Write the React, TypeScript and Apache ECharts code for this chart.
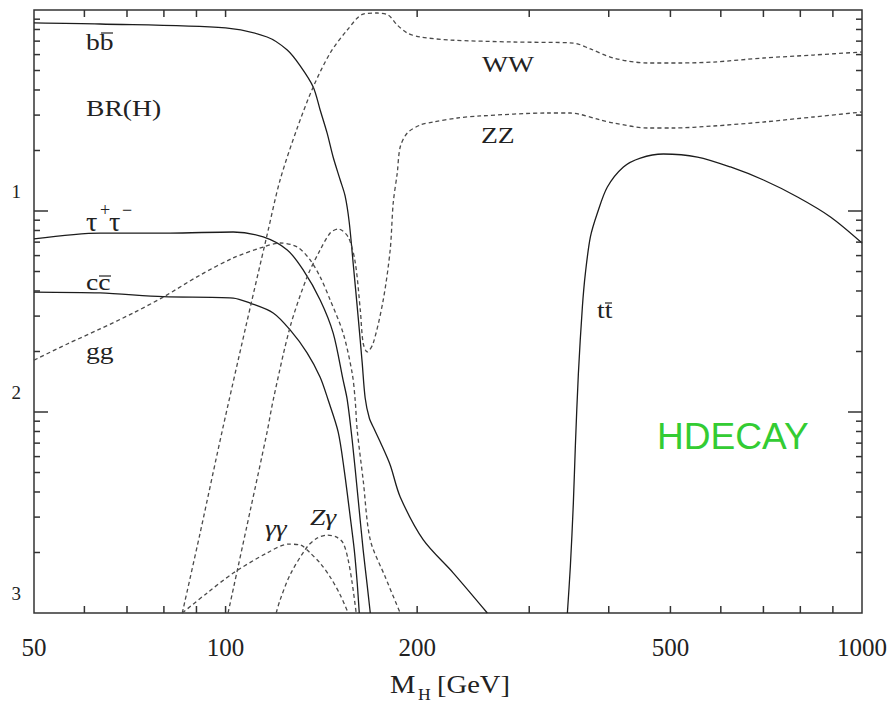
import React, { useEffect, useRef } from "react";
import * as echarts from "echarts";

// Higgs boson branching ratios BR(H) versus M_H [GeV]; pairs are [mass, BR].
const bbCurve: [number, number][] = [
  [50, 0.862], [63.5, 0.852], [100, 0.814], [116.2, 0.734], [125, 0.632], [131, 0.527],
  [137.3, 0.414], [140.8, 0.318], [144.4, 0.244], [147.6, 0.185], [151.4, 0.1426],
  [154.1, 0.1188], [156.4, 0.0882], [158.7, 0.0545], [161.6, 0.0294], [163.9, 0.0177],
  [165.7, 0.01174], [168.2, 0.00934], [171.2, 0.00823], [175, 0.00709], [181.4, 0.00545],
  [188.1, 0.00378], [204.5, 0.00231], [228, 0.00158], [257.8, 0.001],
];
const tautauCurve: [number, number][] = [
  [50, 0.0726], [63.5, 0.0777], [81.8, 0.0777], [102.8, 0.0786], [114.6, 0.0743],
  [125, 0.064], [132.4, 0.0509], [140.8, 0.0361], [147.6, 0.0247], [153, 0.0144],
  [155.3, 0.0115], [158.1, 0.00726], [161.6, 0.00365], [164.5, 0.00206], [166.9, 0.00138],
  [168.8, 0.001],
];
const ccCurve: [number, number][] = [
  [50, 0.0395], [63.5, 0.0391], [79.8, 0.0375], [102.8, 0.0369], [109.3, 0.0348],
  [118.8, 0.0311], [126.3, 0.0256], [134.3, 0.0197], [140.8, 0.0149],
  [144.9, 0.0115], [150.3, 0.00795], [153.6, 0.00514], [157, 0.003], [159.3, 0.00206],
  [161, 0.00141], [162.2, 0.001],
];
const ggCurve: [number, number][] = [
  [50, 0.0181], [56.4, 0.0218], [63.5, 0.0259], [71.6, 0.0311], [79.8, 0.0373],
  [91.2, 0.048], [102.8, 0.0584], [114.6, 0.0662], [121.8, 0.0693], [129.6, 0.0662],
  [135.8, 0.0571], [140.8, 0.047], [146, 0.0361], [153, 0.0247], [158.1, 0.0156],
  [159.8, 0.0115], [161, 0.00813], [164.5, 0.00459], [168.8, 0.00231], [178.2, 0.00151],
  [188.1, 0.001],
];
const gamgamCurve: [number, number][] = [
  [85.5, 0.001], [93.6, 0.00126], [102.8, 0.00158], [116.2, 0.00199], [125.4, 0.0022],
  [131, 0.00218], [135.8, 0.00199], [140.8, 0.00177], [146, 0.00151], [151.4, 0.00123],
  [155.8, 0.001],
];
const zgamCurve: [number, number][] = [
  [120.1, 0.001], [121.8, 0.00116], [126.3, 0.00155], [134.3, 0.00213], [139.3, 0.00236],
  [144.4, 0.00244], [149.2, 0.00239], [153, 0.00223], [155.8, 0.00184], [158.1, 0.00141],
  [160.4, 0.001],
];
const wwCurve: [number, number][] = [
  [85.5, 0.001], [91.2, 0.0025], [98.7, 0.00795], [107.3, 0.0256], [116.2, 0.076],
  [121.8, 0.1426], [129.6, 0.2588], [137.3, 0.4139], [146, 0.611], [155.3, 0.795],
  [164.5, 0.955], [173.1, 0.966], [180.1, 0.944], [186.1, 0.842], [193, 0.768],
  [202.3, 0.734], [225.5, 0.709], [283.2, 0.693], [351.9, 0.685], [374.3, 0.64],
  [406.8, 0.577], [460.1, 0.545], [518.4, 0.545], [584.3, 0.551], [700.2, 0.577],
  [839.1, 0.597], [1000, 0.618],
];
const zzCurve: [number, number][] = [
  [100.9, 0.001], [109.3, 0.00322], [116.2, 0.00795], [118.8, 0.01147], [126.3, 0.0265],
  [134.3, 0.047], [140.8, 0.064], [146, 0.0777], [150.3, 0.0814], [155.8, 0.0743],
  [159.8, 0.0558], [162.8, 0.0322], [164.5, 0.022], [166.9, 0.0199], [170.6, 0.022],
  [176.9, 0.0361], [181.4, 0.064], [183.4, 0.1096], [186.1, 0.1545], [188.1, 0.2082],
  [193, 0.2443], [202.3, 0.2679], [212, 0.2772], [231.3, 0.2902], [251.3, 0.297],
  [320.3, 0.3073], [348.1, 0.3073], [388.1, 0.2837], [406.8, 0.2741], [460.1, 0.2588],
  [505.4, 0.2588], [584.3, 0.2648], [700.2, 0.2772], [839.1, 0.2936], [1000, 0.3108],
];
const ttCurve: [number, number][] = [
  [344.4, 0.001], [348.1, 0.0017], [351.9, 0.0035], [354.5, 0.0068], [358.4, 0.0156],
  [363.6, 0.0333], [367.6, 0.0491], [374.3, 0.0743], [383.9, 0.0977], [398, 0.1316],
  [421.8, 0.1656], [448.5, 0.1835], [487.4, 0.1921], [551.4, 0.1856], [621.3, 0.1656],
  [700.2, 0.1426], [791.9, 0.1174], [892.3, 0.0934], [1000, 0.0693],
];

// Axis ranges, labels and tick positions
const massRange = [50, 1000];
const brRange = [0.001, 1];
const massLabels = [50, 100, 200, 500, 1000];
const brLabels = [0.1, 0.01, 0.001];
const massTicks = [60, 70, 80, 90, 100, 200, 300, 400, 500, 600, 700, 800, 900];
const brMinorTicks = [
  0.9, 0.8, 0.7, 0.6, 0.5, 0.4, 0.3, 0.2,
  0.09, 0.08, 0.07, 0.06, 0.05, 0.04, 0.03, 0.02,
  0.009, 0.008, 0.007, 0.006, 0.005, 0.004, 0.003, 0.002,
];
const brMajorTicks = [0.1, 0.01];

const SERIF = '"Liberation Serif", "Times New Roman", serif';
const SANS = '"Liberation Sans", Arial, sans-serif';
const INK = "#222";
const FRAME = "#333";

function curve(name: string, data: [number, number][], dashed: boolean) {
  return {
    name,
    type: "line",
    data,
    showSymbol: false,
    smooth: 0.3,
    silent: true,
    lineStyle: dashed
      ? { color: "#4a4a4a", width: 1.3, type: [4, 3] }
      : { color: "#1c1c1c", width: 1.3, type: "solid" },
  };
}

function txt(text: string, x: number, y: number, size = 24, italic = false, scaleX = 1.15) {
  return {
    type: "text",
    x,
    y,
    scaleX,
    silent: true,
    style: {
      text,
      font: `${italic ? "italic " : ""}${size}px ${SERIF}`,
      fill: INK,
      verticalAlign: "middle",
    },
  };
}

function bar(x1: number, x2: number, y: number) {
  return {
    type: "line",
    silent: true,
    shape: { x1, y1: y, x2, y2: y },
    style: { stroke: INK, lineWidth: 1.2 },
  };
}

export default function App() {
  const ref = useRef<HTMLDivElement>(null);

  useEffect(() => {
    if (!ref.current) return;
    const chart = echarts.init(ref.current, undefined, { renderer: "svg" });

    const tickStyle = { stroke: FRAME, lineWidth: 1.5 };

    const option: any = {
      animation: false,
      backgroundColor: "#fff",
      grid: {
        left: 34,
        top: 10,
        right: 29,
        bottom: 90,
        show: true,
        borderColor: FRAME,
        borderWidth: 1.5,
      },
      xAxis: {
        type: "log",
        logBase: 10,
        min: massRange[0],
        max: massRange[1],
        axisLine: { show: false },
        axisTick: { show: false },
        minorTick: { show: false },
        splitLine: { show: false },
        axisLabel: {
          customValues: massLabels,
          margin: 22,
          fontSize: 25,
          fontFamily: SERIF,
          color: INK,
          formatter: (v: number) => String(Math.round(v)),
        },
      },
      yAxis: {
        type: "log",
        logBase: 10,
        min: brRange[0],
        max: brRange[1],
        axisLine: { show: false },
        axisTick: { show: false },
        minorTick: { show: false },
        splitLine: { show: false },
        axisLabel: {
          customValues: brLabels,
          margin: 13,
          fontSize: 19,
          fontFamily: SERIF,
          color: INK,
          verticalAlign: "bottom",
          padding: [0, 0, 10, 0],
          formatter: (v: number) => String(Math.round(-Math.log10(v))),
        },
      },
      series: [
        curve("bb", bbCurve, false),
        curve("tautau", tautauCurve, false),
        curve("cc", ccCurve, false),
        curve("tt", ttCurve, false),
        curve("gg", ggCurve, true),
        curve("gamgam", gamgamCurve, true),
        curve("Zgam", zgamCurve, true),
        curve("WW", wwCurve, true),
        curve("ZZ", zzCurve, true),
        {
          // inward ticks on the top and bottom frame edges
          type: "custom",
          silent: true,
          clip: false,
          z: 5,
          data: massTicks.map((v) => [v, 0.01]),
          renderItem: (params: any, api: any) => {
            const cs = params.coordSys;
            const p = api.coord([api.value(0), api.value(1)]);
            const bottom = cs.y + cs.height;
            return {
              type: "group",
              children: [
                { type: "line", shape: { x1: p[0], y1: bottom, x2: p[0], y2: bottom - 7 }, style: tickStyle },
                { type: "line", shape: { x1: p[0], y1: cs.y, x2: p[0], y2: cs.y + 7 }, style: tickStyle },
              ],
            };
          },
        },
        {
          // inward ticks on the left and right frame edges
          type: "custom",
          silent: true,
          clip: false,
          z: 5,
          data: [
            ...brMinorTicks.map((v) => [100, v, 6]),
            ...brMajorTicks.map((v) => [100, v, 14]),
          ],
          renderItem: (params: any, api: any) => {
            const cs = params.coordSys;
            const p = api.coord([api.value(0), api.value(1)]);
            const len = api.value(2);
            const right = cs.x + cs.width;
            return {
              type: "group",
              children: [
                { type: "line", shape: { x1: cs.x, y1: p[1], x2: cs.x + len, y2: p[1] }, style: tickStyle },
                { type: "line", shape: { x1: right, y1: p[1], x2: right - len, y2: p[1] }, style: tickStyle },
              ],
            };
          },
        },
      ],
      graphic: [
        txt("bb", 86, 42),
        bar(101, 113, 33),
        txt("BR(H)", 86, 108),
        txt("τ", 86, 222, 27, false, 1.05),
        txt("+", 100, 210, 18, false, 1.0),
        txt("τ", 109, 222, 27, false, 1.05),
        txt("−", 122, 210, 18, false, 1.0),
        txt("cc", 86, 282),
        bar(99, 111, 276),
        txt("gg", 86, 351),
        txt("γγ", 265, 528, 24, true),
        txt("Zγ", 310, 517, 24, true),
        txt("WW", 482, 64),
        txt("ZZ", 481, 135),
        txt("tt", 597, 310),
        bar(605, 612, 303),
        {
          type: "text",
          x: 657,
          y: 437,
          scaleX: 1.03,
          silent: true,
          style: {
            text: "HDECAY",
            font: `36px ${SANS}`,
            fill: "#33cc33",
            verticalAlign: "middle",
          },
        },
        txt("M", 390, 684, 26, false, 1.1),
        txt("H", 418, 695, 16, false, 1.1),
        txt("[GeV]", 437, 684, 26, false, 1.1),
      ],
    };

    chart.setOption(option);
    return () => chart.dispose();
  }, []);

  return (
    <div
      ref={ref}
      style={{ position: "fixed", left: 0, top: 0, width: 891, height: 703, background: "#fff" }}
    />
  );
}
